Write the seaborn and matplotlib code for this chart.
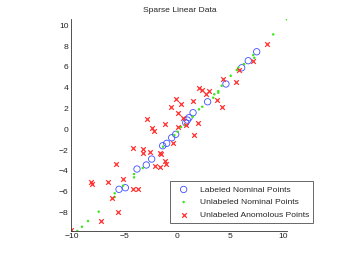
import numpy as np
import pandas as pd
import matplotlib
matplotlib.use('Agg')
import matplotlib.pyplot as plt
import seaborn as sb

# labeled nominal points (blue circles)
lab_x = [7.49, 6.69, 6.07, 4.58, 2.85, 1.47, 1.09, 0.93, 0.78, -0.17, -0.55, -1.02,
         -1.40, -2.44, -2.95, -3.83, -4.93, -5.53]
lab_y = [7.46, 6.60, 5.92, 4.36, 2.65, 1.60, 1.12, 0.89, 0.63, -0.48, -0.81, -1.35,
         -1.58, -2.86, -3.43, -3.82, -5.62, -5.77]

# unlabeled nominal points (green dots)
nom_x = [10.35, 9.05, 7.16, 7.26, 6.29, 5.75, 5.60, 5.03, 4.18, 3.86, 3.86, 3.48, 3.38,
         2.34, 2.03, 1.44, 0.71, 0.33, 0.02, -0.30, -1.37, -3.29, -4.11, -4.11, -5.15,
         -5.94, -5.94, -7.45, -8.46, -9.03, -9.47]
nom_y = [10.58, 9.13, 7.14, 6.88, 6.28, 5.92, 5.70, 5.15, 4.19, 3.68, 3.52, 3.37, 3.04,
         2.17, 1.92, 1.21, 0.41, 0.22, -0.23, -0.55, -1.67, -3.72, -4.30, -4.62, -5.42,
         -6.15, -6.51, -7.92, -8.82, -9.37, -9.78]

# unlabeled anomalous points (red crosses)
ano_x = [8.43, 7.16, 5.84, 4.27, 5.50, 2.08, 2.32, 2.65, 3.02, 3.71, 4.21, 1.47, -0.14,
         -0.66, 0.30, 0.05, 0.49, 1.98, 0.85, -2.88, -1.18, -2.41, -2.22, 0.02, 1.54,
         -4.21, -3.23, -3.23, -2.60, -1.70, -1.54, -0.40, -1.18, -1.09, -2.13, -1.67,
         -5.77, -5.20, -6.55, -8.20, -8.08, -4.25, -3.69, -6.22, -5.58, -7.26, -10.08]
ano_y = [8.25, 6.57, 5.75, 4.88, 4.58, 3.97, 3.83, 3.44, 3.73, 2.82, 2.17, 2.72, 2.94,
         2.12, 2.40, 1.57, 1.12, 0.65, 0.46, 0.99, 0.56, 0.15, -0.19, 0.24, -0.50,
         -1.75, -1.89, -2.28, -2.18, -2.23, -2.36, -1.35, -3.02, -3.32, -3.51, -3.65,
         -3.38, -4.81, -5.02, -5.05, -5.22, -5.74, -5.74, -6.63, -7.93, -8.77, -9.64]

sb.set_style('white')
plt.rcParams['font.family'] = ['Liberation Sans', 'DejaVu Sans']
fs = 6.1

fig = plt.figure(figsize=(3.46, 2.6), dpi=100)
ax = fig.add_axes([0.2058, 0.1127, 0.6251, 0.8138])

sb.scatterplot(x=lab_x, y=lab_y, ax=ax, marker='o', s=21, facecolors='none',
               edgecolor='#3d4dff', linewidth=0.6, label='Labeled Nominal Points')
sb.scatterplot(x=nom_x, y=nom_y, ax=ax, marker='.', s=13, color='#3ee61e',
               edgecolor='none', linewidth=0, label='Unlabeled Nominal Points')
sb.scatterplot(x=ano_x, y=ano_y, ax=ax, marker='x', s=11, color='#ff3030',
               linewidth=0.9, label='Unlabeled Anomolous Points')

ax.set_xlim(-10.05, 10.4)
ax.set_ylim(-9.75, 10.6)
ax.set_xticks([-10, -5, 0, 5, 10])
ax.set_yticks([-8, -6, -4, -2, 0, 2, 4, 6, 8, 10])
ax.set_xticklabels(['\u221210', '\u22125', '0', '5', '10'])
ax.set_yticklabels(['\u22128', '\u22126', '\u22124', '\u22122', '0', '2', '4', '6', '8', '10'])
ax.tick_params(direction='in', length=2.5, width=0.5, labelsize=fs, pad=2,
               colors='#222222')
for side in ['top', 'right']:
    ax.spines[side].set_visible(False)
for side in ['left', 'bottom']:
    ax.spines[side].set_linewidth(0.6)
    ax.spines[side].set_color('#333333')

ax.set_title('Sparse Linear Data', fontsize=fs, pad=5)

leg = ax.legend(loc='lower left', bbox_to_anchor=(0.457, 0.036), fontsize=fs,
                frameon=True, fancybox=False, borderpad=0.5, handletextpad=0.8,
                labelspacing=0.55, handlelength=2.2, borderaxespad=0)
leg.get_frame().set_edgecolor('#222222')
leg.get_frame().set_linewidth(0.6)

fig.savefig('out.png', dpi=100)
